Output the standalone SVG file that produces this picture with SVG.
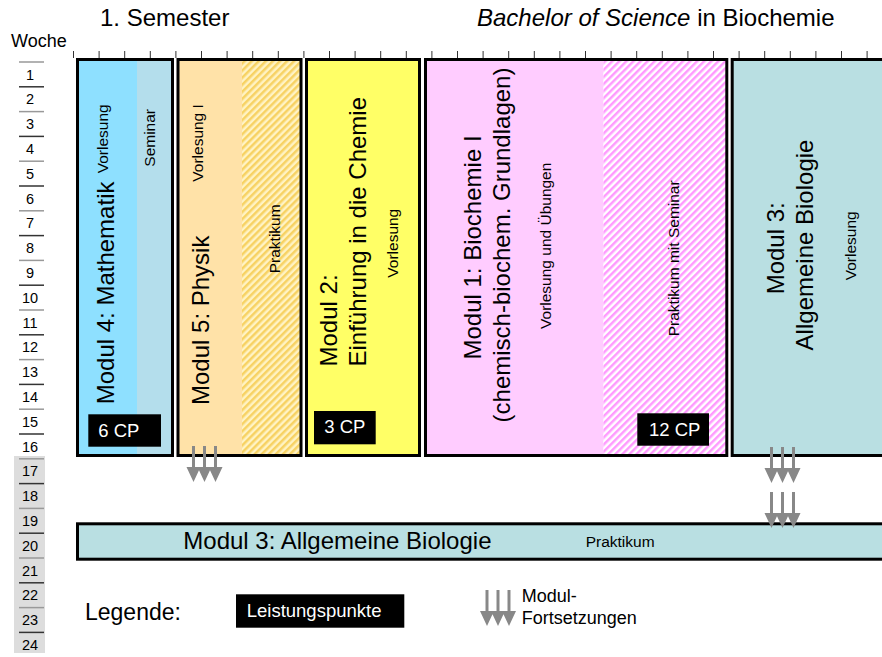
<svg xmlns="http://www.w3.org/2000/svg" width="882" height="657" viewBox="0 0 882 657">
<style>
text{font-family:"Liberation Sans",Arial,sans-serif;fill:#000}
.big{font-size:24px}
.sm{font-size:15.5px}
.wk{font-size:14.5px;text-anchor:middle}
.cp{font-size:18.5px;fill:#fff}
.box{stroke:#000;stroke-width:3;fill:none}
.tick{stroke:#333;stroke-width:1}
.shaft{stroke:#888;stroke-width:3}
.head{fill:#888}
</style>
<defs>
<pattern id="hY" width="5" height="5" patternUnits="userSpaceOnUse" patternTransform="rotate(45)">
<rect width="5" height="5" fill="#FFF3C4"/><rect width="2.5" height="5" fill="#F7D263"/>
</pattern>
<pattern id="hP" width="5" height="5" patternUnits="userSpaceOnUse" patternTransform="rotate(45)">
<rect width="5" height="5" fill="#FFFFFF"/><rect width="2.5" height="5" fill="#FF99FF"/>
</pattern>
<g id="tri">
<line class="shaft" x1="0" y1="0" x2="0" y2="22"/>
<line class="shaft" x1="11" y1="0" x2="11" y2="22"/>
<line class="shaft" x1="22" y1="0" x2="22" y2="22"/>
<path class="head" d="M-7,21 L7,21 L0,36 Z M4,21 L18,21 L11,36 Z M15,21 L29,21 L22,36 Z"/>
</g>
</defs>
<rect width="882" height="657" fill="#fff"/>

<g id="header">
<text class="big" x="100" y="26">1. Semester</text>
<text class="big" x="477" y="25.5"><tspan font-style="italic">Bachelor of Science</tspan> in Biochemie</text>
<text x="11" y="46.5" font-size="18">Woche</text>
</g>

<g id="weeks">
<rect x="14" y="456" width="31" height="197" fill="#DDDDDD"/>
<g stroke-width="1.5">
<line x1="19" x2="44" y1="62" y2="62" stroke="#999"/>
<line x1="19" x2="44" y1="86.8" y2="86.8" stroke="#333"/>
<line x1="19" x2="44" y1="111.6" y2="111.6" stroke="#999"/>
<line x1="19" x2="44" y1="136.4" y2="136.4" stroke="#333"/>
<line x1="19" x2="44" y1="161.2" y2="161.2" stroke="#999"/>
<line x1="19" x2="44" y1="186" y2="186" stroke="#333"/>
<line x1="19" x2="44" y1="210.8" y2="210.8" stroke="#999"/>
<line x1="19" x2="44" y1="235.6" y2="235.6" stroke="#333"/>
<line x1="19" x2="44" y1="260.4" y2="260.4" stroke="#999"/>
<line x1="19" x2="44" y1="285.2" y2="285.2" stroke="#333"/>
<line x1="19" x2="44" y1="310" y2="310" stroke="#999"/>
<line x1="19" x2="44" y1="334.8" y2="334.8" stroke="#333"/>
<line x1="19" x2="44" y1="359.6" y2="359.6" stroke="#999"/>
<line x1="19" x2="44" y1="384.4" y2="384.4" stroke="#333"/>
<line x1="19" x2="44" y1="409.2" y2="409.2" stroke="#999"/>
<line x1="19" x2="44" y1="434" y2="434" stroke="#333"/>
<line x1="19" x2="44" y1="458.8" y2="458.8" stroke="#999"/>
<line x1="19" x2="44" y1="483.6" y2="483.6" stroke="#333"/>
<line x1="19" x2="44" y1="508.4" y2="508.4" stroke="#999"/>
<line x1="19" x2="44" y1="533.2" y2="533.2" stroke="#333"/>
<line x1="19" x2="44" y1="558" y2="558" stroke="#999"/>
<line x1="19" x2="44" y1="582.8" y2="582.8" stroke="#333"/>
<line x1="19" x2="44" y1="607.6" y2="607.6" stroke="#999"/>
<line x1="19" x2="44" y1="632.4" y2="632.4" stroke="#333"/>
</g>
<text class="wk" x="30" y="79.5">1</text>
<text class="wk" x="30" y="104.3">2</text>
<text class="wk" x="30" y="129.1">3</text>
<text class="wk" x="30" y="153.9">4</text>
<text class="wk" x="30" y="178.7">5</text>
<text class="wk" x="30" y="203.5">6</text>
<text class="wk" x="30" y="228.3">7</text>
<text class="wk" x="30" y="253.1">8</text>
<text class="wk" x="30" y="277.9">9</text>
<text class="wk" x="30" y="302.7">10</text>
<text class="wk" x="30" y="327.5">11</text>
<text class="wk" x="30" y="352.3">12</text>
<text class="wk" x="30" y="377.1">13</text>
<text class="wk" x="30" y="401.9">14</text>
<text class="wk" x="30" y="426.7">15</text>
<text class="wk" x="30" y="451.5">16</text>
<text class="wk" x="30" y="476.3">17</text>
<text class="wk" x="30" y="501.1">18</text>
<text class="wk" x="30" y="525.9">19</text>
<text class="wk" x="30" y="550.7">20</text>
<text class="wk" x="30" y="575.5">21</text>
<text class="wk" x="30" y="600.3">22</text>
<text class="wk" x="30" y="625.1">23</text>
<text class="wk" x="30" y="649.9">24</text>
</g>

<g id="ticks">
<path class="tick" d="M73.5,51V58 M99.1,51V58 M124.7,51V58 M150.3,51V58 M175.9,51V58 M201.5,51V58 M227.1,51V58 M252.7,51V58 M278.3,51V58 M303.9,51V58 M329.5,51V58 M355.1,51V58 M380.7,51V58 M406.3,51V58 M431.9,51V58 M457.5,51V58 M483.1,51V58 M508.7,51V58 M534.3,51V58 M559.9,51V58 M585.5,51V58 M611.1,51V58 M636.7,51V58 M662.3,51V58 M687.9,51V58 M713.5,51V58 M739.1,51V58 M764.7,51V58 M790.3,51V58 M815.9,51V58 M841.5,51V58 M867.1,51V58"/>
</g>

<g id="modul4">
<rect x="77.5" y="59.5" width="59.5" height="396" fill="#8EE0FF"/>
<rect x="137" y="59.5" width="35.5" height="396" fill="#B4DEEC"/>
<rect class="box" x="77.5" y="59.5" width="95" height="396"/>
<text class="big" transform="translate(114,404.3) rotate(-90)">Modul 4: Mathematik</text>
<text class="sm" transform="translate(108,173.3) rotate(-90)">Vorlesung</text>
<text class="sm" transform="translate(154.5,166.7) rotate(-90)">Seminar</text>
<rect x="88.3" y="414.3" width="72.7" height="32.4" fill="#000"/>
<text class="cp" x="98.3" y="436.7">6 CP</text>
</g>

<g id="modul5">
<rect x="178" y="59.5" width="64" height="396" fill="#FFE2A8"/>
<rect x="242" y="59.5" width="59" height="396" fill="url(#hY)"/>
<rect class="box" x="178" y="59.5" width="123" height="396"/>
<text class="big" transform="translate(208.5,405) rotate(-90)">Modul 5: Physik</text>
<text class="sm" transform="translate(203,181.7) rotate(-90)">Vorlesung I</text>
<text class="sm" transform="translate(279.5,273.3) rotate(-90)">Praktikum</text>
</g>

<g id="modul2">
<rect x="306.5" y="59.5" width="113" height="396" fill="#FFFF66"/>
<rect class="box" x="306.5" y="59.5" width="113" height="396"/>
<text class="big" transform="translate(337,366.5) rotate(-90)">Modul 2:</text>
<text class="big" transform="translate(365.5,366.5) rotate(-90)">Einführung in die Chemie</text>
<text class="sm" transform="translate(397.5,277.7) rotate(-90)">Vorlesung</text>
<rect x="314" y="411" width="61.7" height="33.3" fill="#000"/>
<text class="cp" x="324.3" y="433.3">3 CP</text>
</g>

<g id="modul1">
<rect x="425.5" y="59.5" width="178" height="396" fill="#FFCCFF"/>
<rect x="603.5" y="59.5" width="123.3" height="396" fill="url(#hP)"/>
<rect class="box" x="425.5" y="59.5" width="301.3" height="396"/>
<text class="big" text-anchor="middle" transform="translate(481,247.5) rotate(-90)">Modul 1: Biochemie I</text>
<text class="big" text-anchor="middle" transform="translate(509.5,245) rotate(-90)">(chemisch-biochem. Grundlagen)</text>
<text class="sm" font-size="16" text-anchor="middle" transform="translate(551,245.8) rotate(-90)">Vorlesung und Übungen</text>
<text class="sm" font-size="16" text-anchor="middle" transform="translate(679,258.3) rotate(-90)">Praktikum mit Seminar</text>
<rect x="637.3" y="413.3" width="71.7" height="32.4" fill="#000"/>
<text class="cp" x="649" y="436">12 CP</text>
</g>

<g id="modul3">
<rect x="732.2" y="59.5" width="160" height="396" fill="#B9DFE2"/>
<rect class="box" x="732.2" y="59.5" width="160" height="396"/>
<text class="big" text-anchor="middle" transform="translate(784,248.3) rotate(-90)">Modul 3:</text>
<text class="big" text-anchor="middle" transform="translate(813,245) rotate(-90)">Allgemeine Biologie</text>
<text class="sm" text-anchor="middle" transform="translate(856,245.8) rotate(-90)">Vorlesung</text>
</g>

<g id="modul3-praktikum">
<rect x="77.5" y="523.8" width="820" height="35.4" fill="#B9DFE2" stroke="#000" stroke-width="3"/>
<text class="big" x="183.3" y="549">Modul 3: Allgemeine Biologie</text>
<text class="sm" x="585.7" y="547.3">Praktikum</text>
</g>

<g id="connectors">
<use href="#tri" transform="translate(193.5,446)"/>
<use href="#tri" transform="translate(771.5,447)"/>
<use href="#tri" transform="translate(771.5,492)"/>
</g>

<g id="legende">
<text x="85" y="620" font-size="23">Legende:</text>
<rect x="236" y="594.3" width="168.3" height="33.4" fill="#000"/>
<text class="cp" x="246.7" y="617.3">Leistungspunkte</text>
<use href="#tri" transform="translate(487,590)"/>
<text x="521.7" y="602.3" font-size="18">Modul-</text>
<text x="521.7" y="624.3" font-size="18">Fortsetzungen</text>
</g>
</svg>
